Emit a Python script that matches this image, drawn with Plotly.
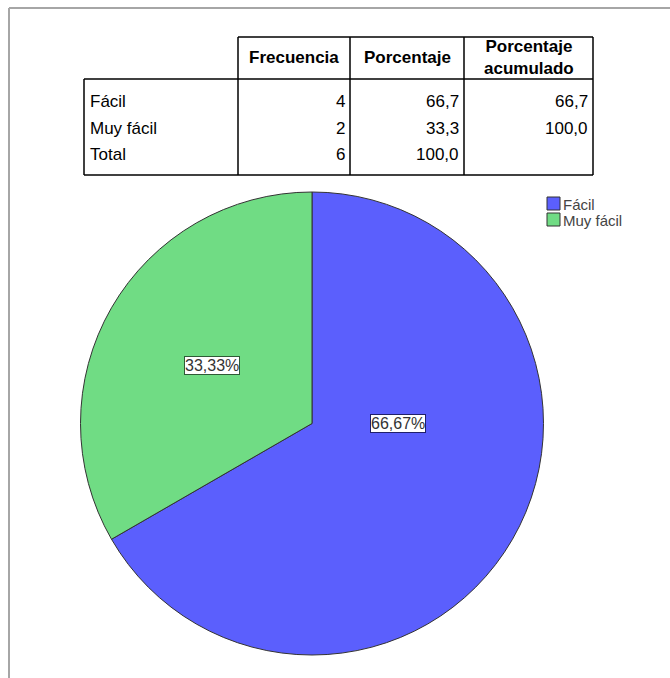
import math
import plotly.graph_objects as go

# Frequency table data
categorias = ["Fácil", "Muy fácil"]
frecuencias = [4, 2]
porcentajes = [66.7, 33.3]
acumulados = [66.7, 100.0]
total_frecuencia = 6
total_porcentaje = 100.0
encabezados = ["Frecuencia", "Porcentaje", "Porcentaje<br>acumulado"]
etiquetas_pie = ["66,67%", "33,33%"]

colores = ["#5b5ffd", "#70dc84"]
bordes_etiqueta = ["#20206a", "#2f5a36"]

W, H = 670, 678


def px(x):
    return x / W


def py(y):
    return 1 - y / H


def coma(v, d=1):
    return f"{v:.{d}f}".replace(".", ",")


fig = go.Figure()

# Pie geometry in pixels
cx, cy, r = 312, 423.5, 231.5
fig.add_trace(go.Pie(
    labels=categorias,
    values=frecuencias,
    sort=False,
    direction="clockwise",
    rotation=0,
    marker=dict(colors=colores, line=dict(color="#333333", width=1)),
    textinfo="none",
    hoverinfo="label+percent",
    showlegend=False,
    domain=dict(x=[px(cx - r), px(cx + r)], y=[py(cy + r), py(cy - r)]),
))

shapes = []
annotations = []

# Outer frame
shapes.append(dict(type="line", xref="paper", yref="paper",
                   x0=px(9), x1=px(672), y0=py(8), y1=py(8),
                   line=dict(color="#a6a6a6", width=2)))
shapes.append(dict(type="line", xref="paper", yref="paper",
                   x0=px(9), x1=px(9), y0=py(8), y1=py(680),
                   line=dict(color="#a6a6a6", width=2)))

# Table layout (pixels)
col_x = [84, 238, 350, 464, 593]
head_top, head_bot, body_bot = 37, 79, 175
negro = dict(color="#000000", width=1.5)


def linea(x0, y0, x1, y1):
    shapes.append(dict(type="line", xref="paper", yref="paper",
                       x0=px(x0), x1=px(x1), y0=py(y0), y1=py(y1), line=negro))


# header box
linea(col_x[1], head_top, col_x[4], head_top)
for xv in col_x[1:]:
    linea(xv, head_top, xv, head_bot)
# body box
linea(col_x[0], head_bot, col_x[4], head_bot)
linea(col_x[0], body_bot, col_x[4], body_bot)
for xv in col_x:
    linea(xv, head_bot, xv, body_bot)

fuente = "Liberation Sans, Arial, sans-serif"
head_mid = (head_top + head_bot) / 2
for i, h in enumerate(encabezados):
    annotations.append(dict(
        x=px((col_x[i + 1] + col_x[i + 2]) / 2), y=py(head_mid),
        xref="paper", yref="paper", text=f"<b>{h}</b>", showarrow=False,
        font=dict(family=fuente, size=17, color="#000000"),
        xanchor="center", yanchor="middle", align="center"))

filas = [
    [categorias[0], str(frecuencias[0]), coma(porcentajes[0]), coma(acumulados[0])],
    [categorias[1], str(frecuencias[1]), coma(porcentajes[1]), coma(acumulados[1])],
    ["Total", str(total_frecuencia), coma(total_porcentaje), ""],
]
fila_y = [101, 128, 155]
for fy, fila in zip(fila_y, filas):
    annotations.append(dict(
        x=px(col_x[0] + 4), y=py(fy), xref="paper", yref="paper",
        text=fila[0], showarrow=False, xanchor="left", yanchor="middle",
        font=dict(family=fuente, size=17, color="#000000")))
    for j, val in enumerate(fila[1:]):
        if not val:
            continue
        annotations.append(dict(
            x=px(col_x[j + 2] - 3), y=py(fy), xref="paper", yref="paper",
            text=val, showarrow=False, xanchor="right", yanchor="middle",
            font=dict(family=fuente, size=17, color="#000000")))

# Slice labels: first slice toward 3 o'clock, second at its mid-angle
# (the second slice runs counter-clockwise from 12 o'clock)
total = sum(frecuencias)
barridos = [360.0 * v / total for v in frecuencias]
medio_2 = math.radians(barridos[1] / 2)
pos = [
    (cx + 0.37 * r, cy),
    (cx - 0.5 * r * math.sin(medio_2), cy - 0.5 * r * math.cos(medio_2)),
]
for k, (lx, ly) in enumerate(pos):
    annotations.append(dict(
        x=px(lx), y=py(ly), xref="paper", yref="paper", text=etiquetas_pie[k],
        showarrow=False, xanchor="center", yanchor="middle",
        bgcolor="#ffffff", bordercolor=bordes_etiqueta[k], borderwidth=1, borderpad=0,
        font=dict(family=fuente, size=16, color="#333333")))

# Legend
for k, cat in enumerate(categorias):
    y0 = 197 + 16 * k
    shapes.append(dict(type="rect", xref="paper", yref="paper",
                       x0=px(547), x1=px(560), y0=py(y0 + 13), y1=py(y0),
                       fillcolor=colores[k], line=dict(color="#333333", width=1)))
    annotations.append(dict(
        x=px(561), y=py(y0 + 7), xref="paper", yref="paper", text=cat,
        showarrow=False, xanchor="left", yanchor="middle",
        font=dict(family=fuente, size=15, color="#444444")))

fig.update_layout(
    width=W, height=H,
    margin=dict(l=0, r=0, t=0, b=0),
    paper_bgcolor="#ffffff",
    plot_bgcolor="#ffffff",
    shapes=shapes,
    annotations=annotations,
    showlegend=False,
)

fig.write_html("out.html", config={"displayModeBar": False})
